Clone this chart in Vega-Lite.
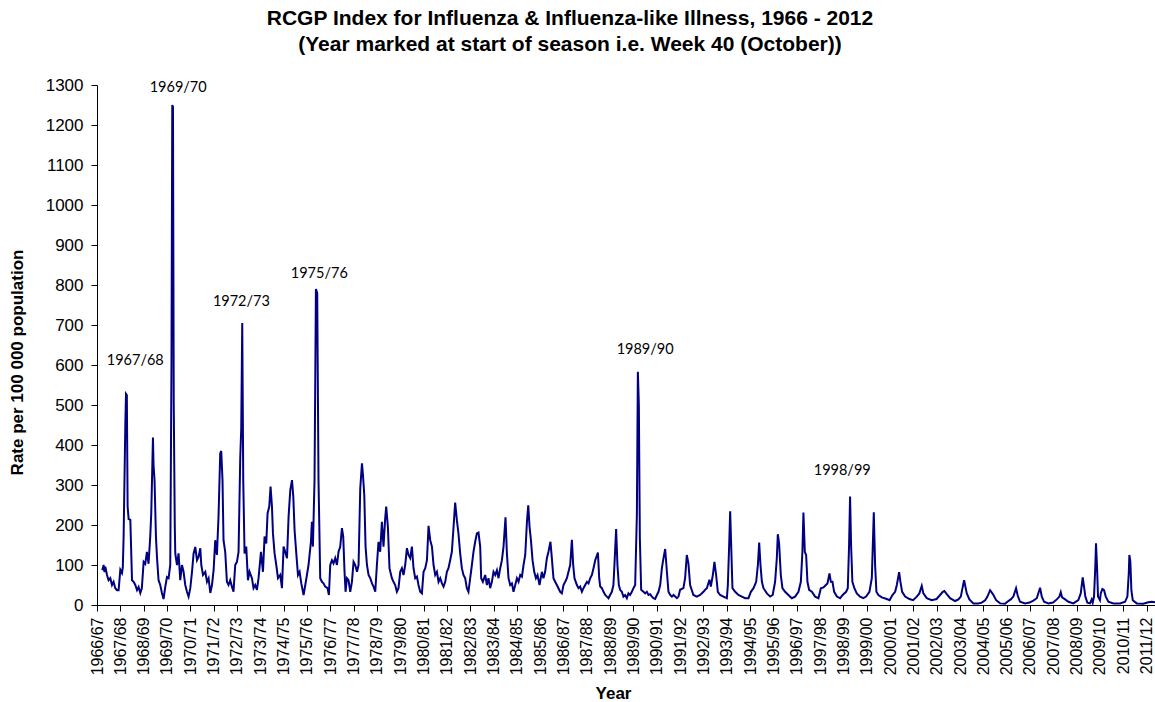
{
"$schema":"https://vega.github.io/schema/vega-lite/v6.json",
"width":1058,"height":520,
"autosize":{"type":"none"},
"padding":{"left":97,"top":85,"right":0,"bottom":97},
"background":"white",
"config":{"view":{"stroke":null},"font":"Liberation Sans"},
"title":{"text":["RCGP Index for Influenza & Influenza-like Illness, 1966 - 2012","(Year marked at start of season i.e. Week 40 (October))"],"font":"Liberation Sans","fontSize":21,"fontWeight":"bold","color":"black","anchor":"middle","dx":-56,"offset":21,"lineHeight":26},
"encoding":{
 "x":{"field":"t","type":"quantitative","scale":{"domain":[1966,2011.36],"nice":false,"zero":false},
  "axis":{"values":[1966,1967,1968,1969,1970,1971,1972,1973,1974,1975,1976,1977,1978,1979,1980,1981,1982,1983,1984,1985,1986,1987,1988,1989,1990,1991,1992,1993,1994,1995,1996,1997,1998,1999,2000,2001,2002,2003,2004,2005,2006,2007,2008,2009,2010,2011],
   "labelExpr":"datum.value + '/' + slice('0' + ((datum.value + 1) % 100), -2)",
   "labelAngle":-90,"labelFontSize":16,"labelColor":"black","labelPadding":6,"labelOverlap":false,"labelFlush":false,
   "tickSize":6,"tickColor":"black","domainColor":"black","grid":false,
   "title":"Year","titleFontSize":17,"titleFontWeight":"bold","titleColor":"black","titleX":516,"titleY":88,"titleBaseline":"middle"}},
 "y":{"field":"v","type":"quantitative","scale":{"domain":[0,1300],"nice":false},
  "axis":{"values":[0,100,200,300,400,500,600,700,800,900,1000,1100,1200,1300],"format":"d",
   "labelFontSize":17,"labelColor":"black","labelPadding":8,"tickSize":6,"tickColor":"black","domainColor":"black","grid":false,
   "title":"Rate per 100 000 population","titleFontSize":17,"titleFontWeight":"bold","titleColor":"black","titleX":-80,"titleY":277,"titleBaseline":"middle","titleAlign":"center"}}
},
"layer":[
 {"data":{"name":"ili"},"mark":{"type":"line","color":"#000080","strokeWidth":2,"clip":true}},
 {"data":{"name":"notes"},"mark":{"type":"text","font":"Lato","fontSize":14.5,"color":"black","baseline":"middle","align":"center"},"encoding":{"text":{"field":"label"}}}
],
"datasets":{
"notes":[
 {"t":1967.64,"v":610,"label":"1967/68"},
 {"t":1969.48,"v":1292,"label":"1969/70"},
 {"t":1972.19,"v":757,"label":"1972/73"},
 {"t":1975.53,"v":827,"label":"1975/76"},
 {"t":1989.50,"v":637,"label":"1989/90"},
 {"t":1997.95,"v":335,"label":"1998/99"}
],
"ili":[
{"t":1966.227,"v":87},{"t":1966.283,"v":100},{"t":1966.322,"v":82},{"t":1966.356,"v":96},{"t":1966.429,"v":75},{"t":1966.497,"v":62},{"t":1966.570,"v":67},{"t":1966.643,"v":50},{"t":1966.711,"v":58},{"t":1966.784,"v":42},{"t":1966.857,"v":37},{"t":1966.926,"v":37},
{"t":1967.000,"v":88},{"t":1967.073,"v":80},{"t":1967.107,"v":95},{"t":1967.141,"v":171},{"t":1967.214,"v":450},{"t":1967.244,"v":528},{"t":1967.279,"v":525},{"t":1967.313,"v":246},{"t":1967.356,"v":215},{"t":1967.429,"v":213},{"t":1967.501,"v":62},{"t":1967.570,"v":58},{"t":1967.643,"v":50},{"t":1967.716,"v":37},{"t":1967.784,"v":45},{"t":1967.857,"v":30},{"t":1967.922,"v":42},
{"t":1968.000,"v":108},{"t":1968.069,"v":103},{"t":1968.141,"v":133},{"t":1968.210,"v":103},{"t":1968.283,"v":171},{"t":1968.326,"v":229},{"t":1968.399,"v":419},{"t":1968.424,"v":350},{"t":1968.467,"v":312},{"t":1968.527,"v":171},{"t":1968.570,"v":121},{"t":1968.639,"v":62},{"t":1968.711,"v":50},{"t":1968.784,"v":30},{"t":1968.853,"v":15},{"t":1968.926,"v":45},
{"t":1969.000,"v":70},{"t":1969.069,"v":67},{"t":1969.141,"v":100},{"t":1969.193,"v":600},{"t":1969.227,"v":1250},{"t":1969.257,"v":1245},{"t":1969.291,"v":500},{"t":1969.334,"v":200},{"t":1969.356,"v":129},{"t":1969.429,"v":100},{"t":1969.497,"v":129},{"t":1969.570,"v":62},{"t":1969.643,"v":100},{"t":1969.711,"v":83},{"t":1969.784,"v":50},{"t":1969.857,"v":33},{"t":1969.926,"v":21},
{"t":1970.000,"v":42},{"t":1970.073,"v":83},{"t":1970.141,"v":129},{"t":1970.214,"v":145},{"t":1970.287,"v":112},{"t":1970.356,"v":121},{"t":1970.429,"v":142},{"t":1970.471,"v":100},{"t":1970.544,"v":75},{"t":1970.643,"v":83},{"t":1970.716,"v":58},{"t":1970.784,"v":67},{"t":1970.857,"v":30},{"t":1970.930,"v":50},
{"t":1971.000,"v":88},{"t":1971.069,"v":162},{"t":1971.141,"v":125},{"t":1971.210,"v":221},{"t":1971.283,"v":379},{"t":1971.326,"v":385},{"t":1971.381,"v":312},{"t":1971.424,"v":162},{"t":1971.497,"v":133},{"t":1971.570,"v":58},{"t":1971.639,"v":50},{"t":1971.711,"v":62},{"t":1971.784,"v":46},{"t":1971.853,"v":33},{"t":1971.926,"v":100},
{"t":1972.000,"v":108},{"t":1972.069,"v":133},{"t":1972.141,"v":366},{"t":1972.184,"v":442},{"t":1972.227,"v":705},{"t":1972.270,"v":312},{"t":1972.326,"v":129},{"t":1972.399,"v":146},{"t":1972.471,"v":62},{"t":1972.540,"v":83},{"t":1972.643,"v":67},{"t":1972.711,"v":42},{"t":1972.784,"v":50},{"t":1972.857,"v":38},{"t":1972.926,"v":67},
{"t":1973.030,"v":133},{"t":1973.116,"v":83},{"t":1973.184,"v":171},{"t":1973.257,"v":154},{"t":1973.313,"v":229},{"t":1973.386,"v":246},{"t":1973.441,"v":296},{"t":1973.501,"v":246},{"t":1973.544,"v":179},{"t":1973.613,"v":129},{"t":1973.686,"v":100},{"t":1973.759,"v":67},{"t":1973.857,"v":75},{"t":1973.930,"v":42},
{"t":1974.000,"v":146},{"t":1974.043,"v":138},{"t":1974.146,"v":117},{"t":1974.214,"v":221},{"t":1974.287,"v":287},{"t":1974.360,"v":312},{"t":1974.416,"v":271},{"t":1974.471,"v":187},{"t":1974.544,"v":129},{"t":1974.617,"v":75},{"t":1974.686,"v":83},{"t":1974.759,"v":54},{"t":1974.857,"v":25},{"t":1974.930,"v":50},
{"t":1975.000,"v":75},{"t":1975.069,"v":100},{"t":1975.171,"v":158},{"t":1975.214,"v":208},{"t":1975.257,"v":146},{"t":1975.326,"v":312},{"t":1975.386,"v":790},{"t":1975.441,"v":780},{"t":1975.497,"v":312},{"t":1975.570,"v":67},{"t":1975.643,"v":58},{"t":1975.711,"v":54},{"t":1975.784,"v":46},{"t":1975.883,"v":42},{"t":1975.943,"v":25},
{"t":1976.000,"v":100},{"t":1976.073,"v":112},{"t":1976.141,"v":104},{"t":1976.214,"v":117},{"t":1976.287,"v":100},{"t":1976.356,"v":133},{"t":1976.429,"v":146},{"t":1976.501,"v":192},{"t":1976.557,"v":171},{"t":1976.613,"v":83},{"t":1976.656,"v":33},{"t":1976.716,"v":67},{"t":1976.784,"v":62},{"t":1976.857,"v":33},{"t":1976.930,"v":58},
{"t":1977.000,"v":108},{"t":1977.073,"v":100},{"t":1977.146,"v":83},{"t":1977.214,"v":100},{"t":1977.287,"v":292},{"t":1977.360,"v":354},{"t":1977.403,"v":325},{"t":1977.459,"v":275},{"t":1977.514,"v":146},{"t":1977.574,"v":100},{"t":1977.643,"v":75},{"t":1977.716,"v":67},{"t":1977.789,"v":54},{"t":1977.857,"v":46},{"t":1977.930,"v":33},
{"t":1978.000,"v":100},{"t":1978.069,"v":158},{"t":1978.141,"v":133},{"t":1978.214,"v":208},{"t":1978.283,"v":146},{"t":1978.356,"v":217},{"t":1978.399,"v":246},{"t":1978.471,"v":196},{"t":1978.540,"v":92},{"t":1978.643,"v":67},{"t":1978.711,"v":58},{"t":1978.784,"v":50},{"t":1978.857,"v":33},{"t":1978.926,"v":42},
{"t":1979.000,"v":83},{"t":1979.073,"v":92},{"t":1979.141,"v":75},{"t":1979.214,"v":100},{"t":1979.287,"v":142},{"t":1979.356,"v":125},{"t":1979.429,"v":117},{"t":1979.501,"v":146},{"t":1979.570,"v":92},{"t":1979.643,"v":67},{"t":1979.716,"v":71},{"t":1979.784,"v":50},{"t":1979.857,"v":33},{"t":1979.930,"v":29},
{"t":1980.000,"v":83},{"t":1980.073,"v":92},{"t":1980.146,"v":112},{"t":1980.214,"v":198},{"t":1980.287,"v":162},{"t":1980.360,"v":146},{"t":1980.429,"v":100},{"t":1980.501,"v":75},{"t":1980.574,"v":83},{"t":1980.643,"v":58},{"t":1980.716,"v":67},{"t":1980.789,"v":54},{"t":1980.857,"v":46},{"t":1980.930,"v":58},
{"t":1981.000,"v":83},{"t":1981.069,"v":92},{"t":1981.141,"v":112},{"t":1981.214,"v":133},{"t":1981.283,"v":192},{"t":1981.356,"v":256},{"t":1981.429,"v":212},{"t":1981.497,"v":179},{"t":1981.570,"v":129},{"t":1981.643,"v":92},{"t":1981.711,"v":75},{"t":1981.784,"v":67},{"t":1981.857,"v":42},{"t":1981.926,"v":33},
{"t":1982.000,"v":67},{"t":1982.073,"v":100},{"t":1982.141,"v":133},{"t":1982.214,"v":158},{"t":1982.287,"v":179},{"t":1982.356,"v":181},{"t":1982.429,"v":146},{"t":1982.471,"v":67},{"t":1982.544,"v":58},{"t":1982.643,"v":75},{"t":1982.716,"v":50},{"t":1982.784,"v":67},{"t":1982.857,"v":42},{"t":1982.930,"v":58},
{"t":1983.000,"v":83},{"t":1983.073,"v":75},{"t":1983.146,"v":87},{"t":1983.214,"v":67},{"t":1983.287,"v":92},{"t":1983.360,"v":112},{"t":1983.429,"v":146},{"t":1983.514,"v":219},{"t":1983.574,"v":129},{"t":1983.643,"v":67},{"t":1983.716,"v":50},{"t":1983.789,"v":54},{"t":1983.857,"v":33},{"t":1983.930,"v":50},
{"t":1984.004,"v":67},{"t":1984.073,"v":58},{"t":1984.146,"v":75},{"t":1984.219,"v":71},{"t":1984.287,"v":100},{"t":1984.360,"v":125},{"t":1984.433,"v":208},{"t":1984.489,"v":249},{"t":1984.544,"v":196},{"t":1984.604,"v":162},{"t":1984.673,"v":112},{"t":1984.746,"v":83},{"t":1984.819,"v":67},{"t":1984.887,"v":75},{"t":1984.973,"v":50},
{"t":1985.073,"v":83},{"t":1985.141,"v":67},{"t":1985.214,"v":83},{"t":1985.287,"v":117},{"t":1985.356,"v":133},{"t":1985.441,"v":158},{"t":1985.501,"v":117},{"t":1985.570,"v":67},{"t":1985.643,"v":58},{"t":1985.716,"v":50},{"t":1985.784,"v":42},{"t":1985.857,"v":33},{"t":1985.930,"v":29},
{"t":1986.000,"v":50},{"t":1986.073,"v":58},{"t":1986.146,"v":67},{"t":1986.214,"v":83},{"t":1986.287,"v":100},{"t":1986.360,"v":163},{"t":1986.416,"v":100},{"t":1986.471,"v":67},{"t":1986.574,"v":50},{"t":1986.643,"v":42},{"t":1986.716,"v":46},{"t":1986.789,"v":33},{"t":1986.857,"v":42},{"t":1986.930,"v":50},
{"t":1987.004,"v":58},{"t":1987.073,"v":54},{"t":1987.146,"v":67},{"t":1987.219,"v":75},{"t":1987.287,"v":92},{"t":1987.360,"v":112},{"t":1987.476,"v":131},{"t":1987.531,"v":67},{"t":1987.574,"v":46},{"t":1987.647,"v":42},{"t":1987.716,"v":33},{"t":1987.789,"v":25},{"t":1987.861,"v":21},{"t":1987.930,"v":17},
{"t":1988.000,"v":25},{"t":1988.073,"v":33},{"t":1988.141,"v":50},{"t":1988.184,"v":100},{"t":1988.257,"v":190},{"t":1988.313,"v":100},{"t":1988.373,"v":50},{"t":1988.429,"v":38},{"t":1988.501,"v":33},{"t":1988.570,"v":21},{"t":1988.643,"v":25},{"t":1988.716,"v":17},{"t":1988.784,"v":29},{"t":1988.857,"v":25},{"t":1988.930,"v":33},
{"t":1989.000,"v":42},{"t":1989.073,"v":50},{"t":1989.146,"v":225},{"t":1989.189,"v":583},{"t":1989.231,"v":500},{"t":1989.274,"v":167},{"t":1989.330,"v":38},{"t":1989.429,"v":33},{"t":1989.501,"v":29},{"t":1989.574,"v":33},{"t":1989.643,"v":25},{"t":1989.716,"v":27},{"t":1989.789,"v":21},{"t":1989.857,"v":17},{"t":1989.930,"v":15},
{"t":1990.004,"v":25},{"t":1990.073,"v":33},{"t":1990.146,"v":50},{"t":1990.219,"v":92},{"t":1990.287,"v":117},{"t":1990.360,"v":140},{"t":1990.433,"v":83},{"t":1990.501,"v":33},{"t":1990.574,"v":25},{"t":1990.647,"v":21},{"t":1990.716,"v":25},{"t":1990.789,"v":21},{"t":1990.861,"v":17},{"t":1990.930,"v":21},
{"t":1991.000,"v":38},{"t":1991.141,"v":42},{"t":1991.214,"v":67},{"t":1991.287,"v":125},{"t":1991.356,"v":104},{"t":1991.429,"v":50},{"t":1991.570,"v":25},{"t":1991.716,"v":21},{"t":1991.857,"v":25},
{"t":1992.000,"v":33},{"t":1992.073,"v":38},{"t":1992.146,"v":42},{"t":1992.257,"v":63},{"t":1992.317,"v":46},{"t":1992.403,"v":75},{"t":1992.471,"v":108},{"t":1992.544,"v":75},{"t":1992.617,"v":33},{"t":1992.716,"v":25},{"t":1992.857,"v":21},
{"t":1993.004,"v":17},{"t":1993.047,"v":50},{"t":1993.103,"v":150},{"t":1993.146,"v":234},{"t":1993.189,"v":150},{"t":1993.244,"v":42},{"t":1993.360,"v":33},{"t":1993.501,"v":25},{"t":1993.647,"v":21},{"t":1993.789,"v":17},{"t":1993.930,"v":17},
{"t":1994.034,"v":33},{"t":1994.146,"v":42},{"t":1994.261,"v":58},{"t":1994.334,"v":100},{"t":1994.390,"v":156},{"t":1994.446,"v":100},{"t":1994.506,"v":58},{"t":1994.574,"v":42},{"t":1994.720,"v":29},{"t":1994.861,"v":21},{"t":1994.969,"v":25},
{"t":1995.073,"v":58},{"t":1995.146,"v":117},{"t":1995.189,"v":177},{"t":1995.244,"v":154},{"t":1995.317,"v":75},{"t":1995.386,"v":42},{"t":1995.501,"v":33},{"t":1995.643,"v":25},{"t":1995.789,"v":17},{"t":1995.930,"v":21},
{"t":1996.073,"v":33},{"t":1996.176,"v":58},{"t":1996.244,"v":133},{"t":1996.287,"v":231},{"t":1996.347,"v":133},{"t":1996.403,"v":125},{"t":1996.459,"v":58},{"t":1996.531,"v":38},{"t":1996.647,"v":33},{"t":1996.789,"v":21},{"t":1996.930,"v":17},
{"t":1997.034,"v":42},{"t":1997.146,"v":44},{"t":1997.249,"v":50},{"t":1997.317,"v":54},{"t":1997.403,"v":79},{"t":1997.463,"v":58},{"t":1997.531,"v":58},{"t":1997.604,"v":33},{"t":1997.720,"v":21},{"t":1997.861,"v":17},{"t":1997.969,"v":25},
{"t":1998.116,"v":33},{"t":1998.189,"v":42},{"t":1998.244,"v":150},{"t":1998.287,"v":271},{"t":1998.330,"v":150},{"t":1998.386,"v":58},{"t":1998.471,"v":42},{"t":1998.574,"v":29},{"t":1998.716,"v":21},{"t":1998.857,"v":17},{"t":1998.973,"v":21},
{"t":1999.116,"v":33},{"t":1999.219,"v":67},{"t":1999.304,"v":232},{"t":1999.360,"v":100},{"t":1999.416,"v":33},{"t":1999.501,"v":25},{"t":1999.647,"v":19},{"t":1999.861,"v":15},{"t":1999.981,"v":12},
{"t":2000.103,"v":25},{"t":2000.219,"v":33},{"t":2000.291,"v":50},{"t":2000.390,"v":82},{"t":2000.446,"v":58},{"t":2000.519,"v":33},{"t":2000.647,"v":21},{"t":2000.831,"v":15},{"t":2000.990,"v":12},
{"t":2001.146,"v":21},{"t":2001.257,"v":29},{"t":2001.360,"v":48},{"t":2001.429,"v":29},{"t":2001.574,"v":17},{"t":2001.789,"v":12},{"t":2001.994,"v":15},
{"t":2002.146,"v":25},{"t":2002.261,"v":33},{"t":2002.330,"v":35},{"t":2002.433,"v":27},{"t":2002.574,"v":17},{"t":2002.789,"v":10},{"t":2002.930,"v":14},
{"t":2003.034,"v":21},{"t":2003.120,"v":46},{"t":2003.176,"v":62},{"t":2003.231,"v":46},{"t":2003.291,"v":29},{"t":2003.403,"v":14},{"t":2003.574,"v":4},{"t":2003.789,"v":4},{"t":2003.934,"v":6},
{"t":2004.077,"v":12},{"t":2004.176,"v":21},{"t":2004.291,"v":37},{"t":2004.364,"v":31},{"t":2004.433,"v":25},{"t":2004.549,"v":12},{"t":2004.720,"v":4},{"t":2004.934,"v":3},
{"t":2005.030,"v":8},{"t":2005.176,"v":14},{"t":2005.287,"v":21},{"t":2005.403,"v":42},{"t":2005.476,"v":23},{"t":2005.574,"v":8},{"t":2005.789,"v":4},{"t":2005.981,"v":6},
{"t":2006.146,"v":11},{"t":2006.291,"v":17},{"t":2006.433,"v":43},{"t":2006.506,"v":21},{"t":2006.604,"v":8},{"t":2006.789,"v":4},{"t":2006.990,"v":6},
{"t":2007.150,"v":14},{"t":2007.261,"v":21},{"t":2007.321,"v":32},{"t":2007.377,"v":19},{"t":2007.506,"v":14},{"t":2007.647,"v":8},{"t":2007.861,"v":4},
{"t":2008.073,"v":12},{"t":2008.176,"v":29},{"t":2008.261,"v":69},{"t":2008.317,"v":46},{"t":2008.373,"v":21},{"t":2008.459,"v":6},{"t":2008.574,"v":4},{"t":2008.647,"v":14},{"t":2008.690,"v":6},{"t":2008.746,"v":21},{"t":2008.801,"v":96},{"t":2008.831,"v":154},{"t":2008.874,"v":96},{"t":2008.917,"v":21},
{"t":2009.000,"v":12},{"t":2009.034,"v":29},{"t":2009.103,"v":40},{"t":2009.176,"v":37},{"t":2009.249,"v":21},{"t":2009.360,"v":8},{"t":2009.574,"v":4},{"t":2009.861,"v":4},
{"t":2010.077,"v":8},{"t":2010.176,"v":21},{"t":2010.236,"v":79},{"t":2010.261,"v":125},{"t":2010.304,"v":108},{"t":2010.347,"v":37},{"t":2010.407,"v":12},{"t":2010.579,"v":4},{"t":2010.862,"v":3},
{"t":2011.073,"v":7},{"t":2011.219,"v":8},{"t":2011.360,"v":7}
]
}
}
